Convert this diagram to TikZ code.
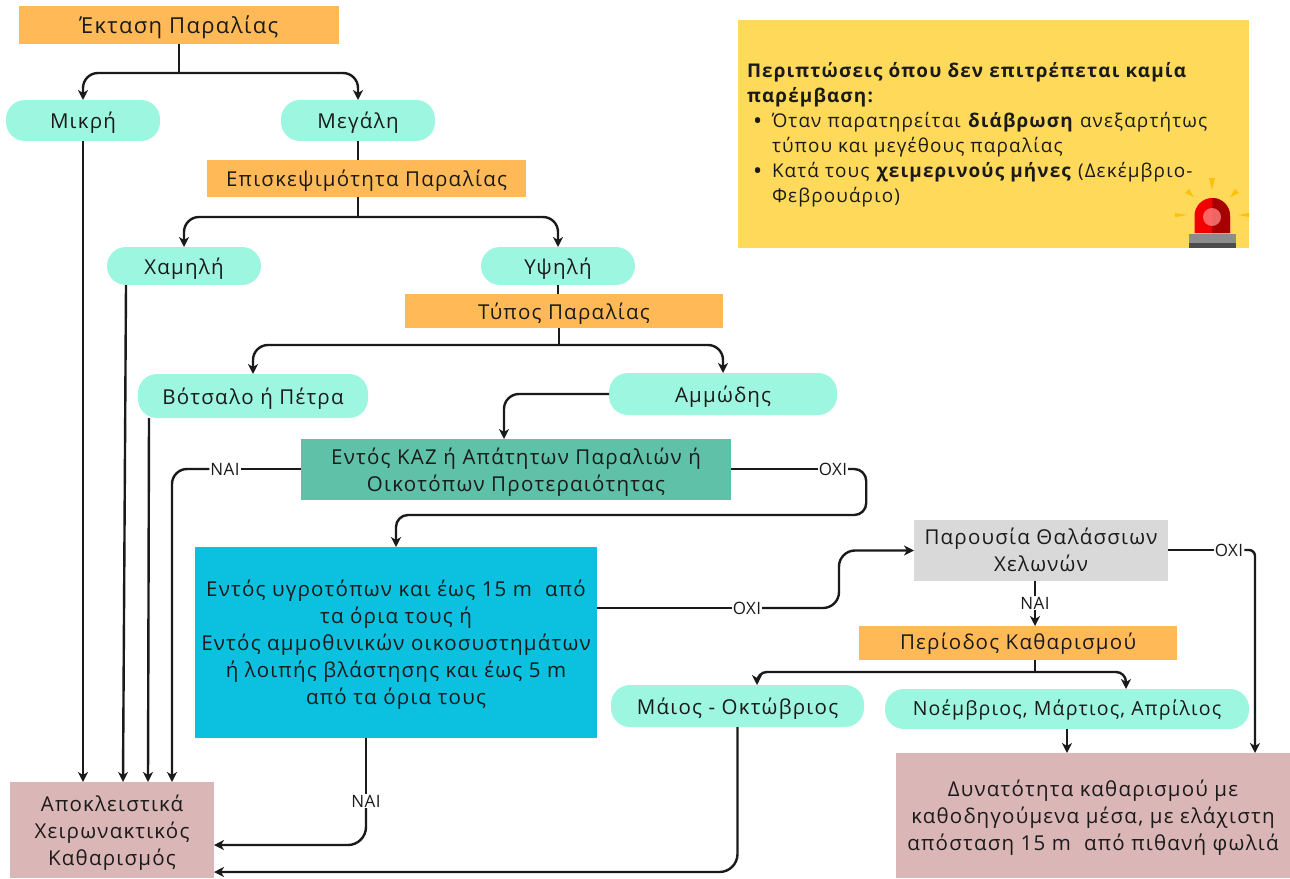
\documentclass[tikz,border=0pt]{standalone}
\usepackage{fontspec}
\setmainfont[LetterSpace=6]{Open Sans}
\newfontfamily\labfont[LetterSpace=3]{Open Sans}
\usetikzlibrary{calc,arrows.meta}
\definecolor{orangebox}{HTML}{FFBA57}
\definecolor{mintpill}{HTML}{9CF6E0}
\definecolor{greenbox}{HTML}{60C1A9}
\definecolor{bluebox}{HTML}{0CC0DF}
\definecolor{greybox}{HTML}{D9D9D9}
\definecolor{rosebox}{HTML}{DBB6B6}
\definecolor{notebox}{HTML}{FFD95A}
\definecolor{inkc}{HTML}{1A1A1A}
\definecolor{rayc}{HTML}{FFC107}
\tikzset{
  x=1pt,y=-1pt,
  every node/.style={text=inkc,font=\fontsize{20.5}{27}\selectfont,align=center,inner sep=0pt,outer sep=0pt},
  boxn/.style={rectangle,text depth=-1pt,minimum width=#1},
  pilln/.style={rectangle,text depth=-1pt,rounded corners=19pt,fill=mintpill,minimum width=#1},
  conn/.style={draw=inkc,line width=2.4pt,rounded corners=15pt,-{Stealth[length=10pt,width=10pt,inset=3pt]}},
  plain/.style={draw=inkc,line width=2.4pt},
  lab/.style={fill=white,font=\labfont\fontsize{17}{20}\selectfont,inner xsep=1pt,inner ysep=1pt},
}
\begin{document}
\begin{tikzpicture}
\useasboundingbox (0,0) rectangle (1290,878);
% boxes
\node[boxn=320pt,minimum height=38pt,fill=orangebox,font=\fontsize{22}{27}\selectfont] (ekt) at (179,25) {Έκταση Παραλίας};
\node[pilln=154pt,minimum height=41pt] (mik) at (83,120.5) {Μικρή};
\node[pilln=154pt,minimum height=41pt] (meg) at (358,120.5) {Μεγάλη};
\node[boxn=319pt,minimum height=37pt,fill=orangebox] (epi) at (366.5,178.5) {Επισκεψιμότητα Παραλίας};
\node[pilln=154pt,minimum height=38pt] (xam) at (184,266) {Χαμηλή};
\node[pilln=154pt,minimum height=38pt] (ypsi) at (558,266) {Υψηλή};
\node[boxn=318pt,minimum height=34pt,fill=orangebox] (typ) at (564,311) {Τύπος Παραλίας};
\node[pilln=230pt,minimum height=44pt] (vot) at (253,396) {Βότσαλο ή Πέτρα};
\node[pilln=228pt,minimum height=42pt] (amm) at (723,394) {Αμμώδης};
\node[boxn=430pt,minimum height=61pt,fill=greenbox] (kaz) at (516,469.5) {Εντός ΚΑΖ ή Απάτητων Παραλιών ή\\Οικοτόπων Προτεραιότητας};
\node[boxn=402pt,minimum height=191pt,fill=bluebox] (ygr) at (396,642.5) {Εντός υγροτόπων και έως 15 m\ \ από\\τα όρια τους ή\\Εντός αμμοθινικών οικοσυστημάτων\\ή λοιπής βλάστησης και έως 5 m\\από τα όρια τους};
\node[boxn=254pt,minimum height=61pt,fill=greybox,text depth=2pt] (xel) at (1041,550.5) {Παρουσία Θαλάσσιων\\Χελωνών};
\node[boxn=318pt,minimum height=34pt,fill=orangebox,text depth=3pt] (per) at (1018,643) {Περίοδος Καθαρισμού};
\node[pilln=253pt,minimum height=42pt] (mai) at (737.5,706) {Μάιος - Οκτώβριος};
\node[pilln=364pt,minimum height=40pt,text depth=3pt,font=\fontsize{19.5}{27}\selectfont] (noe) at (1067,709) {Νοέμβριος, Μάρτιος, Απρίλιος};
\node[boxn=394pt,minimum height=125pt,fill=rosebox] (dyn) at (1093,815.5) {Δυνατότητα καθαρισμού με\\καθοδηγούμενα μέσα, με ελάχιστη\\απόσταση 15 m\ \ από πιθανή φωλιά};
\node[boxn=204pt,minimum height=96pt,fill=rosebox] (apo) at (112,830) {Αποκλειστικά\\Χειρωνακτικός\\Καθαρισμός};
\node[boxn=511pt,minimum height=228pt,fill=notebox] (note) at (993.5,134) {};
% note text
\node[anchor=north west,align=left,font=\fontsize{18.9}{25}\selectfont] (notetxt) at (747,62) {\textbf{Περιπτώσεις όπου δεν επιτρέπεται καμία}\\\textbf{παρέμβαση:}\\\hspace*{7pt}\makebox[18pt][l]{\textbf{•}}Όταν παρατηρείται \textbf{διάβρωση} ανεξαρτήτως\\\hspace*{25pt}τύπου και μεγέθους παραλίας\\\hspace*{7pt}\makebox[18pt][l]{\textbf{•}}Κατά τους \textbf{χειμερινούς μήνες} (Δεκέμβριο-\\\hspace*{25pt}Φεβρουάριο)};
% beacon
\fill[rayc] (1209,178) -- (1215,178) -- (1212,190) -- cycle;
\fill[rayc] (1185,193) -- (1189,189) -- (1194,197) -- cycle;
\fill[rayc] (1239,193) -- (1235,189) -- (1230,197) -- cycle;
\fill[rayc] (1175,213) -- (1187,215) -- (1175,217) -- cycle;
\fill[rayc] (1249,213) -- (1238,215) -- (1249,217) -- cycle;
\fill[red!95!black] (1194.5,233) -- (1194.5,215.75) arc[start angle=180,end angle=0,x radius=17.75,y radius=-17.75] -- (1230,233) -- cycle;
\fill[red!65!black] (1212.25,233) -- (1212.25,198) arc[start angle=90,end angle=0,x radius=17.75,y radius=-17.75] -- (1230,233) -- cycle;
\fill[red!50!white,opacity=.8] (1212,217) circle[radius=9];
\fill[black!45] (1189,234) rectangle (1236,243);
\fill[black!70] (1189,243) rectangle (1236,248);
% labels
\node[lab] (l1) at (225,469) {ΝΑΙ};
\node[lab] (l2) at (833,469) {ΟΧΙ};
\node[lab] (l3) at (747,608) {ΟΧΙ};
\node[lab] (l4) at (1229,550) {ΟΧΙ};
\node[lab] (l5) at (1035,603) {ΝΑΙ};
\node[lab] (l6) at (366,801) {ΝΑΙ};
% junctions
\coordinate (j1) at ($(ekt.south)+(0,29)$);
\coordinate (j2) at ($(epi.south -| meg.south)+(0,20)$);
\coordinate (j3) at ($(typ.south -| ypsi.south)+(1,17)$);
\coordinate (j4) at ($(per.south -| l5)+(0,12)$);
% connectors
\draw[plain] (ekt.south) -- (j1);
\draw[conn] (j1) -| (mik.north);
\draw[conn] (j1) -| (meg.north);
\draw[plain] (meg.south) -- (meg.south |- epi.north);
\draw[plain] (epi.south -| meg.south) -- (j2);
\draw[conn] (j2) -| (xam.north);
\draw[conn] (j2) -| (ypsi.north);
\draw[plain] (ypsi.south) -- (ypsi.south |- typ.north);
\draw[plain] (typ.south -| j3) -- (j3);
\draw[conn] (j3) -| (vot.north);
\draw[conn] (j3) -| (amm.north);
\draw[conn] (amm.west) -| ($(kaz.north)+(-12,0)$);
\draw[plain] (kaz.west |- l1) -- (l1.east);
\draw[conn] (l1.west) -| ($(apo.north)+(60,0)$);
\draw[plain] (kaz.east |- l2) -- (l2.west);
\draw[conn,rounded corners=12pt] (l2.east) -- ++(18,0) |- ++(-34,46) -| (ygr.north);
\draw[plain] (ygr.east |- l3) -- (l3.west);
\draw[conn,rounded corners=16pt] (l3.east) -| ($(xel.west)+(-75,0)$) -- (xel.west);
\draw[plain] (xel.east |- l4) -- (l4.west);
\draw[conn,rounded corners=6pt] (l4.east) -| ($(dyn.north)+(162,0)$);
\draw[plain] (xel.south -| l5) -- (l5.north);
\draw[conn] (l5.south) -- (per.north -| l5);
\draw[plain] (per.south -| l5) -- (j4);
\draw[conn,rounded corners=10pt] (j4) -| ($(mai.north)+(19.5,0)$);
\draw[conn,rounded corners=10pt] (j4) -| ($(noe.north)+(59,0)$);
\draw[conn] (noe.south) -- (noe.south |- dyn.north);
\draw[conn,rounded corners=18pt] (mai.south) |- ($(apo.east)+(0,42)$);
\draw[plain] (ygr.south -| l6) -- (l6.north);
\draw[conn,rounded corners=18pt] (l6.south) |- ($(apo.east)+(0,15)$);
\draw[conn] (mik.south) -- (mik.south |- apo.north);
\draw[conn] ($(xam.south)+(-58,0)$) -- ($(apo.north)+(11,0)$);
\draw[conn] ($(vot.south)+(-104,0)$) -- ($(apo.north)+(36,0)$);
\end{tikzpicture}
\end{document}
